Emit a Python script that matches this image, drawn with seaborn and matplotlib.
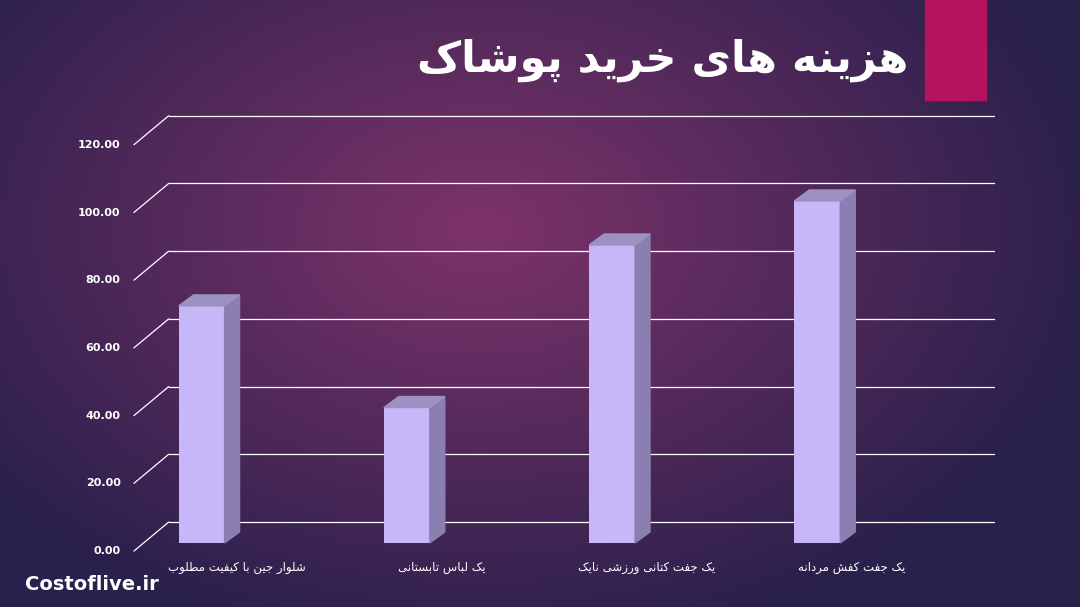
import numpy as np
import matplotlib
matplotlib.use("Agg")
import matplotlib.pyplot as plt
import seaborn as sns
import pandas as pd
from matplotlib.patches import Polygon, Rectangle

categories = ["شلوار جین با کیفیت مطلوب", "یک لباس تابستانی", "یک جفت کتانی ورزشی نایک", "یک جفت کفش مردانه"]
values = [70, 40, 88, 101]
ticks = [0, 20, 40, 60, 80, 100, 120]
title = "هزینه های خرید پوشاک"
brand = "Costoflive.ir"

FORMS = {
 'ا': (0xFE8D, 0xFE8E, None, None), 'ب': (0xFE8F, 0xFE90, 0xFE91, 0xFE92),
 'پ': (0xFB56, 0xFB57, 0xFB58, 0xFB59), 'ت': (0xFE95, 0xFE96, 0xFE97, 0xFE98),
 'ج': (0xFE9D, 0xFE9E, 0xFE9F, 0xFEA0), 'خ': (0xFEA5, 0xFEA6, 0xFEA7, 0xFEA8),
 'د': (0xFEA9, 0xFEAA, None, None), 'ر': (0xFEAD, 0xFEAE, None, None),
 'ز': (0xFEAF, 0xFEB0, None, None), 'س': (0xFEB1, 0xFEB2, 0xFEB3, 0xFEB4),
 'ش': (0xFEB5, 0xFEB6, 0xFEB7, 0xFEB8), 'ط': (0xFEC1, 0xFEC2, 0xFEC3, 0xFEC4),
 'ف': (0xFED1, 0xFED2, 0xFED3, 0xFED4), 'ک': (0xFB8E, 0xFB8F, 0xFB90, 0xFB91),
 'ل': (0xFEDD, 0xFEDE, 0xFEDF, 0xFEE0), 'م': (0xFEE1, 0xFEE2, 0xFEE3, 0xFEE4),
 'ن': (0xFEE5, 0xFEE6, 0xFEE7, 0xFEE8), 'و': (0xFEED, 0xFEEE, None, None),
 'ه': (0xFEE9, 0xFEEA, 0xFEEB, 0xFEEC), 'ی': (0xFBFC, 0xFBFD, 0xFBFE, 0xFBFF),
}

def shape(s):
    out = []
    n = len(s)
    for i, c in enumerate(s):
        if c not in FORMS:
            out.append(c); continue
        f = FORMS[c]
        p = s[i-1] if i > 0 else None
        nx = s[i+1] if i < n-1 else None
        jp = p in FORMS and FORMS[p][2] is not None
        jn = f[2] is not None and nx in FORMS
        if jp and jn: code = f[3]
        elif jp: code = f[1]
        elif jn: code = f[2]
        else: code = f[0]
        out.append(chr(code))
    return "".join(out)[::-1]

sns.set_theme(style="white")
plt.rcParams['font.family'] = ['DejaVu Sans']

fig = plt.figure(figsize=(10.8, 6.07), dpi=100)
bg = fig.add_axes([0, 0, 1, 1])
yy, xx = np.mgrid[0:607, 0:1080]
d = np.sqrt(((xx - 480) / 620) ** 2 + ((yy - 230) / 420) ** 2)
d = np.clip(d, 0, 1)
c0 = np.array([0x7e, 0x33, 0x6a]) / 255
c1 = np.array([0x2a, 0x20, 0x4c]) / 255
img = c0[None, None, :] * (1 - d[..., None]) + c1[None, None, :] * d[..., None]
bg.imshow(img, aspect='auto', extent=[0, 1080, 607, 0])
bg.set_xlim(0, 1080); bg.set_ylim(607, 0); bg.axis('off')
bg.add_patch(Rectangle((925, 0), 61, 100, color='#b5135f'))
bg.text(908, 60, shape(title), color='white', fontsize=31, fontweight='heavy', ha='right', va='center')
bg.text(25, 585, brand, color='white', fontsize=14, fontweight='bold', ha='left', va='center')

ax = fig.add_axes([99/1080, (607-568)/607, 903/1080, 474/607])
ax.patch.set_alpha(0)
df = pd.DataFrame({"cat": categories, "val": values})
sns.barplot(data=df, x="cat", y="val", ax=ax, color='#c8b7f8', saturation=1, width=0.224, zorder=3)
ax.set_xlim(-0.5, 3.9); ax.set_ylim(-5, 135)
ax.axis('off')
dy = 8.6
base = 2.4
for t in ticks:
    ax.plot([-0.16, 3.86], [t + dy, t + dy], color='white', lw=0.9, zorder=1)
    ax.plot([-0.33, -0.16], [t, t + dy], color='white', lw=0.9, zorder=1)
    ax.text(-0.395, t, f"{t:.2f}", color='white', fontsize=8, fontweight='bold', ha='right', va='center')
ddx, ddy = 0.073, 3.25
for p, v in zip(ax.patches, values):
    p.set_y(base); p.set_height(v); p.set_edgecolor('none')
    x0 = p.get_x(); w = p.get_width(); top = base + v
    ax.add_patch(Polygon([(x0 + w, base), (x0 + w + ddx, base + ddy), (x0 + w + ddx, top + ddy), (x0 + w, top)],
                         closed=True, color='#8a7fb0', zorder=3))
    ax.add_patch(Polygon([(x0, top), (x0 + ddx, top + ddy), (x0 + w + ddx, top + ddy), (x0 + w, top)],
                         closed=True, color='#9d91c4', zorder=3))
for i, c in enumerate(categories):
    ax.text(i + 0.17, -5, shape(c), color='white', fontsize=8.5, ha='center', va='center')

fig.savefig("out.png", dpi=100)
